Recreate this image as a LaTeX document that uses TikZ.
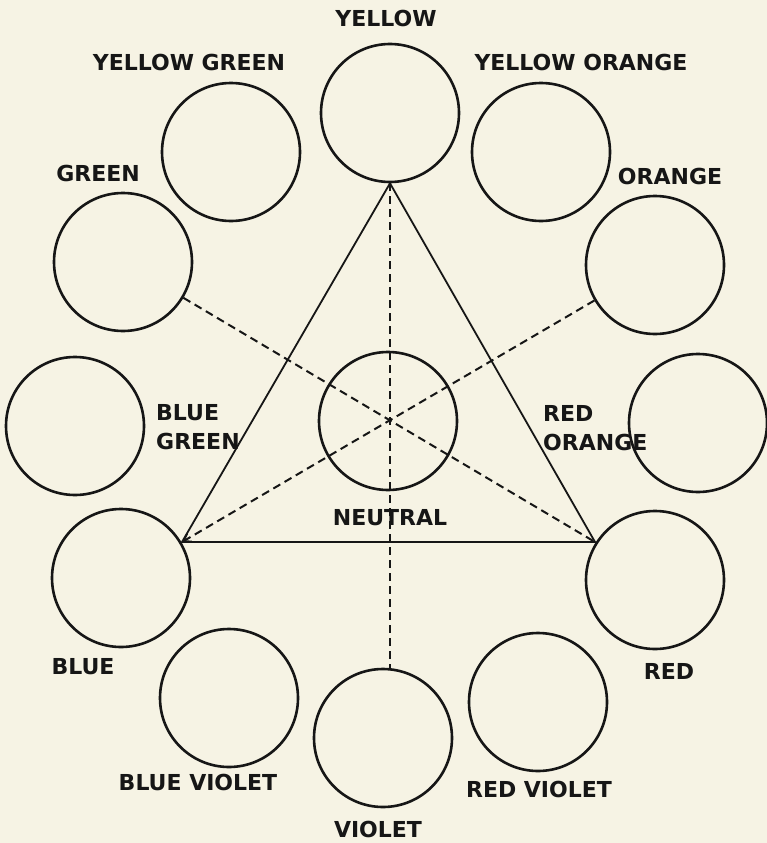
\documentclass[tikz,border=0pt]{standalone}
\usepackage{fontspec}
\setmainfont{DejaVu Sans}
\usetikzlibrary{arrows.meta}
\definecolor{paper}{HTML}{F6F3E4}
\definecolor{ink}{HTML}{161616}
\tikzset{
  swatch/.style={draw=ink, line width=2.6pt, circle, minimum size=138pt, inner sep=0pt},
  lbl/.style={text=ink, font=\bfseries\fontsize{22}{29}\selectfont, inner sep=0pt, align=left},
  tri/.style={draw=ink, line width=1.8pt},
  axis/.style={draw=ink, line width=2pt, dash pattern=on 8pt off 5pt},
}
\begin{document}
\begin{tikzpicture}[x=1pt, y=-1pt]
\fill[paper] (0,0) rectangle (767,843);
\useasboundingbox (0,0) rectangle (767,843);

% colour swatches
\node[swatch] (yellow)      at (390,113) {};
\node[swatch] (yellowgreen) at (231,152) {};
\node[swatch] (yelloworange) at (541,152) {};
\node[swatch] (green)       at (123,262) {};
\node[swatch] (orange)      at (655,265) {};
\node[swatch] (bluegreen)   at (75,426) {};
\node[swatch] (neutral)     at (388,421) {};
\node[swatch] (redorange)   at (698,423) {};
\node[swatch] (blue)        at (121,578) {};
\node[swatch] (red)         at (655,580) {};
\node[swatch] (blueviolet)  at (229,698) {};
\node[swatch] (violet)      at (383,738) {};
\node[swatch] (redviolet)   at (538,702) {};

% triangle vertices
\coordinate (apex) at (yellow.south);
\coordinate (lv) at (182,542);
\coordinate (rv) at (595,542);

% triangle
\draw[tri, line join=miter] (apex) -- (lv) -- (rv) -- cycle;

% dashed lines
\draw[axis] (apex) -- (apex |- violet.north);
\draw[axis] (green) -- (rv);
\draw[axis, -{Straight Barb[length=7pt, width=9pt, line width=1.8pt]}] (orange) -- (lv);

% labels
\node[lbl] (tYellow) at (386,18) {YELLOW};
\node[lbl] (tYellowGreen) at (189,62) {YELLOW GREEN};
\node[lbl] (tYellowOrange) at (581,62) {YELLOW ORANGE};
\node[lbl] (tGreen) at (98,173) {GREEN};
\node[lbl] (tOrange) at (670,176) {ORANGE};
\node[lbl, anchor=west] (tBlueGreen) at (156,427.5) {BLUE\\GREEN};
\node[lbl, anchor=west] (tRedOrange) at (543,428) {RED\\ORANGE};
\node[lbl] (tNeutral) at (390,518) {NEUTRAL};
\node[lbl] (tBlue) at (83,667) {BLUE};
\node[lbl] (tRed) at (669,671) {RED};
\node[lbl] (tBlueViolet) at (198,782) {BLUE VIOLET};
\node[lbl] (tRedViolet) at (539,789) {RED VIOLET};
\node[lbl] (tViolet) at (378,829) {VIOLET};
\end{tikzpicture}
\end{document}
